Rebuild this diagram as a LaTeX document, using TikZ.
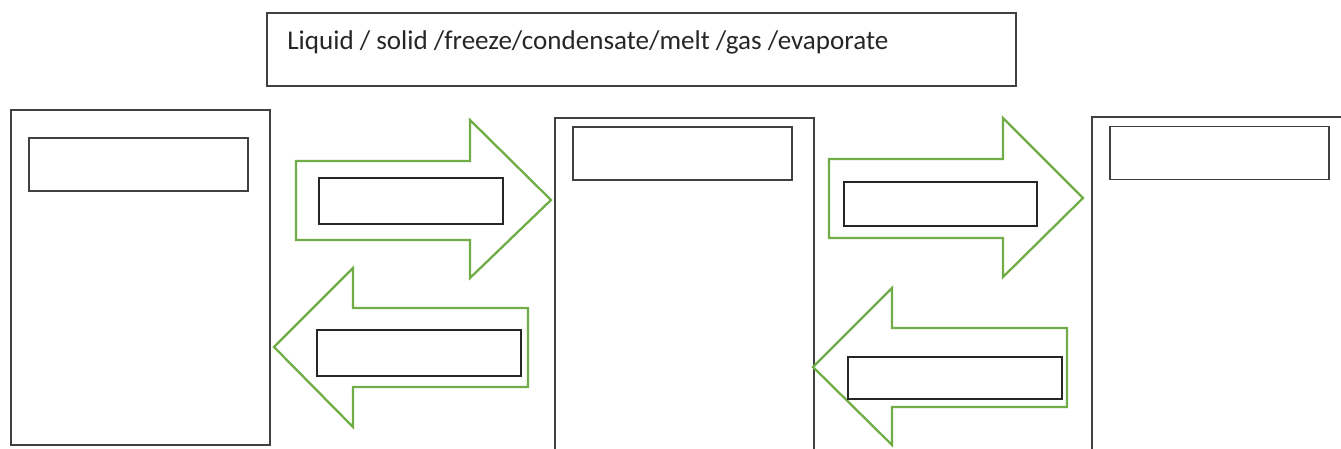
\documentclass[tikz,border=0pt]{standalone}
\usepackage{fontspec}
\setmainfont{Carlito}
\usepackage{tikz}
\usetikzlibrary{positioning,calc}
\definecolor{arrowgreen}{RGB}{112,173,71}
\definecolor{boxgray}{RGB}{64,64,64}

\begin{document}
\begin{tikzpicture}[
    x=0.02cm, y=-0.02cm,
    panel/.style={rectangle, draw=boxgray, line width=0.8pt, minimum width=51.8mm, minimum height=#1, inner sep=0pt},
    panel/.default={67mm},
    slot/.style={rectangle, draw=boxgray, line width=0.8pt, fill=white, minimum width=#1, minimum height=10.6mm, inner sep=0pt},
    slot/.default={43.8mm},
    arrowslot/.style={rectangle, draw=black!85, line width=0.8pt, fill=white, minimum width=#1, minimum height=9mm, inner sep=0pt},
    blockarrow/.style={draw=arrowgreen, line width=1.3pt, line join=miter, fill=white},
    ]
    \useasboundingbox (0,0) rectangle (1341,449);

    %% word list
    \node[rectangle, draw=boxgray, line width=0.8pt, minimum width=149.8mm, minimum height=14.6mm, inner sep=0pt] (keybox) at (641.5,49.5) {};
    \node[anchor=base west, inner sep=0pt, text=black!85] (keytext) at (287,50)
        {\fontsize{15.4}{18}\selectfont Liquid / solid /freeze/condensate/melt /gas /evaporate};

    %% states
    \node[panel] (statea) at (140.5,277.5) {};
    \node[panel=66.8mm] (stateb) at (684.5,285) {};
    \node[panel] (statec) at (1221.5,284.5) {};

    %% state names
    \node[slot] (namea) at (138.5,164.5) {};
    \node[slot] (nameb) at (682.5,153.5) {};
    \node[slot] (namec) at (1219.5,153) {};

    %% block arrows
    % between a and b
    \draw[blockarrow] (296,161) -- (470,161) -- (470,120) -- (551,200) -- (470,278) -- (470,240) -- (296,240) -- cycle;
    \draw[blockarrow] (528,308) -- (353,308) -- (353,268) -- (274,347) -- (353,427) -- (353,387) -- (528,387) -- cycle;
    % between b and c
    \draw[blockarrow] (829,159) -- (1003,159) -- (1003,118) -- (1083,198) -- (1003,277) -- (1003,238) -- (829,238) -- cycle;
    \draw[blockarrow] (1067,328) -- (892,328) -- (892,288) -- (813,367) -- (892,445) -- (892,407) -- (1067,407) -- cycle;

    %% change names
    \node[arrowslot=36.8mm, minimum height=9.2mm] (ab) at (411,201) {};
    \node[arrowslot=40.8mm, minimum height=9.2mm] (ba) at (419,353) {};
    \node[arrowslot=38.6mm, minimum height=8.8mm] (bc) at (940.5,204) {};
    \node[arrowslot=42.8mm, minimum height=8.4mm] (cb) at (955,378) {};

\end{tikzpicture}
\end{document}
